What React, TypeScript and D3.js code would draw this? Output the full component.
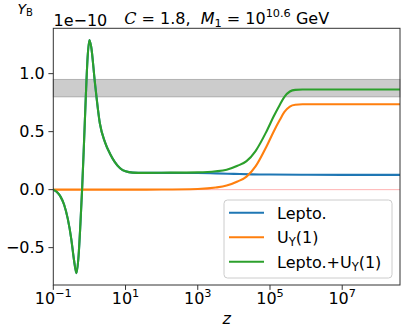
import * as d3 from "d3"
import React, { useEffect } from "react"

// log10(z) knots and values (units of 1e-10)
const leptoLogZ = [-1, -0.9, -0.8, -0.7, -0.6, -0.5, -0.43, -0.36, -0.3, -0.25, -0.2, -0.15, -0.1, -0.05, 0, 0.05, 0.15, 0.29, 0.43, 0.57, 0.7, 0.85, 1.0, 1.2, 1.5, 2, 3, 3.5, 4, 4.5, 5, 6, 7, 8.6]
const leptoY = [0, -0.02, -0.06, -0.13, -0.25, -0.43, -0.6, -0.72, -0.57, -0.3, 0.02, 0.4, 0.8, 1.14, 1.29, 1.23, 0.93, 0.57, 0.41, 0.31, 0.24, 0.185, 0.158, 0.147, 0.145, 0.145, 0.143, 0.14, 0.136, 0.132, 0.13, 0.128, 0.127, 0.127]

const uyLogZ = [-1, 0, 1, 2, 3, 3.5, 3.8, 4.1, 4.35, 4.6, 4.9, 5.1, 5.27, 5.4, 5.55, 5.7, 5.9, 7, 8.6]
const uyY = [0, 0, 0, 0.001, 0.006, 0.018, 0.035, 0.07, 0.112, 0.2, 0.37, 0.5, 0.6, 0.67, 0.716, 0.732, 0.736, 0.736, 0.736]

const sumLogZ = [-1, -0.9, -0.8, -0.7, -0.6, -0.5, -0.43, -0.36, -0.3, -0.25, -0.2, -0.15, -0.1, -0.05, 0, 0.05, 0.15, 0.29, 0.43, 0.57, 0.7, 0.85, 1.0, 1.2, 1.5, 2, 3, 3.5, 3.8, 4.1, 4.35, 4.6, 4.9, 5.1, 5.27, 5.4, 5.55, 5.7, 5.9, 7, 8.6]
const sumY = [0, -0.02, -0.06, -0.13, -0.25, -0.43, -0.6, -0.72, -0.57, -0.3, 0.02, 0.4, 0.8, 1.14, 1.29, 1.23, 0.93, 0.57, 0.41, 0.31, 0.24, 0.185, 0.158, 0.147, 0.145, 0.146, 0.149, 0.158, 0.172, 0.206, 0.246, 0.333, 0.5, 0.63, 0.73, 0.8, 0.846, 0.86, 0.863, 0.863, 0.863]

// observed band
const bandLow = 0.8
const bandHigh = 0.95

const xTickExps = [-1, 1, 3, 5, 7]
const yTicks = [-0.5, 0.0, 0.5, 1.0]

const seriesNames = ["Lepto.", "U_Y(1)", "Lepto.+U_Y(1)"]
const colors = ["#1f77b4", "#ff7f0e", "#2ca02c"]

const W = 407
const H = 336
const margin = { left: 53.3, right: 7, top: 28.3, bottom: 51 }
const font = "DejaVu Sans"

const fmt = (v: number) => v.toFixed(1).replace("-", "\u2212")

const Label = ({ name }: { name: string }) => {
    // render "U_Y" with a subscript
    const parts = name.split("_Y")
    if (parts.length === 1) return <>{name}</>
    return (
        <>
            <tspan>{parts[0]}</tspan>
            <tspan fontSize={11.5} dy={3}>Y</tspan>
            <tspan dy={-3}>{parts[1]}</tspan>
        </>
    )
}

export default function App() {
    useEffect(() => {
        document.body.style.margin = "0"
    }, [])

    const x0 = margin.left
    const x1 = W - margin.right
    const y0 = margin.top
    const y1 = H - margin.bottom

    const x = d3.scaleLog().domain([1e-1, Math.pow(10, 8.6)]).range([x0, x1])
    const y = d3.scaleLinear().domain([-0.822, 1.391]).range([y1, y0])

    const line = d3.line<[number, number]>()
        .x(d => x(Math.pow(10, d[0])))
        .y(d => y(d[1]))
        .curve(d3.curveMonotoneX)

    const series: [number, number][][] = [
        leptoLogZ.map((e, i) => [e, leptoY[i]]),
        uyLogZ.map((e, i) => [e, uyY[i]]),
        sumLogZ.map((e, i) => [e, sumY[i]]),
    ]

    const lx = 224
    const ly = 200
    const rowY = [212.7, 237.3, 261.7]

    return (
        <svg width={W} height={H} style={{ display: "block" }} fontFamily={font}>
            <defs>
                <clipPath id="plot">
                    <rect x={x0} y={y0} width={x1 - x0} height={y1 - y0} />
                </clipPath>
            </defs>
            <rect x={0} y={0} width={W} height={H} fill="#fff" />

            {/* observed band */}
            <rect x={x0} y={y(bandHigh)} width={x1 - x0} height={y(bandLow) - y(bandHigh)}
                fill="#808080" fillOpacity={0.4} stroke="#808080" strokeOpacity={0.5} strokeWidth={1} />
            {/* zero line */}
            <line x1={x0} x2={x1} y1={y(0)} y2={y(0)} stroke="red" strokeOpacity={0.3} strokeWidth={1} />

            <g clipPath="url(#plot)">
                {series.map((s, i) => (
                    <path key={i} d={line(s) || ""} fill="none" stroke={colors[i]} strokeWidth={2.1}
                        strokeLinejoin="round" strokeLinecap="square" />
                ))}
            </g>

            {/* spines */}
            <rect x={x0} y={y0} width={x1 - x0} height={y1 - y0} fill="none" stroke="#333" strokeWidth={1} />

            {/* x ticks */}
            {xTickExps.map(e => {
                const px = x(Math.pow(10, e))
                return (
                    <g key={e}>
                        <line x1={px} x2={px} y1={y1} y2={y1 + 4.9} stroke="#333" strokeWidth={1} />
                        <text x={px} y={304} textAnchor="middle" fontSize={16} fill="#000">
                            <tspan>10</tspan>
                            <tspan fontSize={11.3} dy={-7}>{e < 0 ? "\u2212" + Math.abs(e) : e}</tspan>
                        </text>
                    </g>
                )
            })}

            {/* y ticks */}
            {yTicks.map(v => (
                <g key={v}>
                    <line x1={x0 - 4.9} x2={x0} y1={y(v)} y2={y(v)} stroke="#333" strokeWidth={1} />
                    <text x={x0 - 8.5} y={y(v) + 5.8} textAnchor="end" fontSize={16} fill="#000">{fmt(v)}</text>
                </g>
            ))}

            {/* offset text */}
            <text x={53.5} y={25.5} fontSize={16} fill="#000">1e{"\u2212"}10</text>

            {/* y label */}
            <text x={17.5} y={13.5} fontSize={14} fill="#000">
                <tspan fontStyle="italic">Y</tspan>
                <tspan fontSize={10} dy={2.5}>B</tspan>
            </text>

            {/* x label */}
            <text x={(x0 + x1) / 2} y={324} textAnchor="middle" fontSize={16} fontStyle="italic" fill="#000">z</text>

            {/* title */}
            <text x={(x0 + x1) / 2} y={24} textAnchor="middle" fontSize={16} fill="#000" style={{ whiteSpace: "pre" }}>
                <tspan fontStyle="italic" fontFamily="DejaVu Serif">C</tspan>
                <tspan>{" = 1.8,  "}</tspan>
                <tspan fontStyle="italic">M</tspan>
                <tspan fontSize={11.3} dy={3}>1</tspan>
                <tspan dy={-3}>{" = 10"}</tspan>
                <tspan fontSize={11.3} dy={-7}>10.6</tspan>
                <tspan dy={7}>{" GeV"}</tspan>
            </text>

            {/* legend */}
            <rect x={lx} y={ly} width={168} height={78} rx={3.5} fill="#fff" fillOpacity={0.8}
                stroke="#cccccc" strokeWidth={1} />
            {seriesNames.map((n, i) => (
                <g key={n}>
                    <line x1={229} x2={264} y1={rowY[i]} y2={rowY[i]} stroke={colors[i]} strokeWidth={2.1} />
                    <text x={277} y={rowY[i] + 5.8} fontSize={16} fill="#000"><Label name={n} /></text>
                </g>
            ))}
        </svg>
    )
}
